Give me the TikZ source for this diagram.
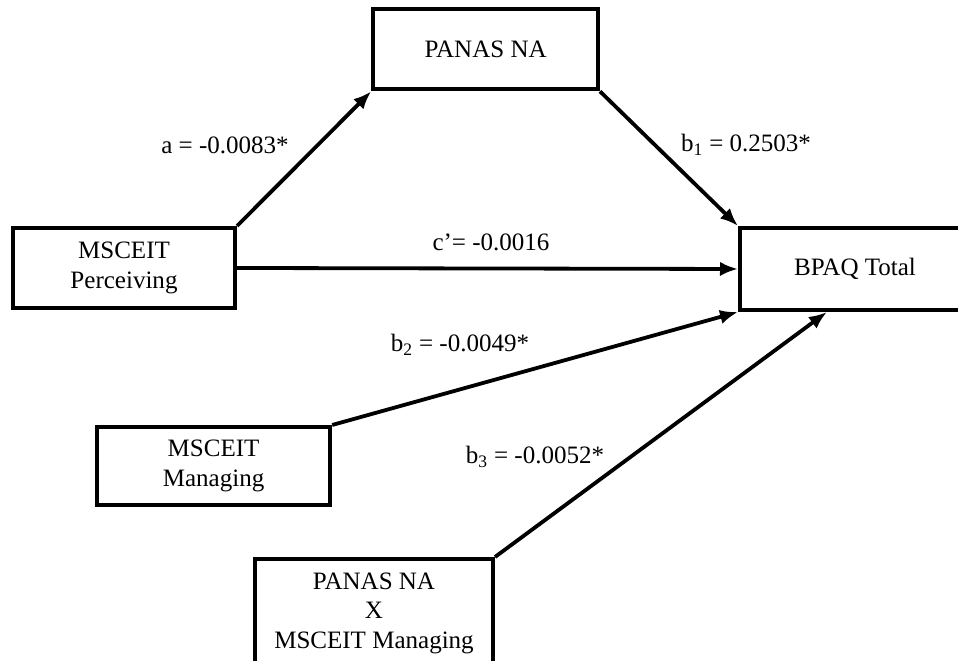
\documentclass[tikz,border=0pt]{standalone}
\usepackage{fontspec}
\setmainfont{Liberation Serif}
\usetikzlibrary{arrows.meta,calc}

\tikzset{
  var/.style={draw,line width=0.1cm,align=center,inner sep=2pt,
    font=\fontsize{17.8}{21}\selectfont},
  path/.style={-{Latex[length=0.45cm,width=0.36cm]},line width=0.095cm},
  coef/.style={font=\fontsize{17.8}{21}\selectfont}
}

\begin{document}
\begin{tikzpicture}
\useasboundingbox (0,0) rectangle (23.95,16.525);
% variables
\node [var,minimum width=5.62cm,minimum height=2cm] (panas) at (12.14,15.29) {PANAS NA};
\node [var,minimum width=5.55cm,minimum height=2cm] (perc) at (3.1,9.825) {MSCEIT\\Perceiving};
\node [var,minimum width=5.75cm,minimum height=2.05cm] (bpaq) at (21.375,9.8) {BPAQ Total};
\node [var,minimum width=5.83cm,minimum height=1.95cm] (manag) at (5.34,4.875) {MSCEIT\\Managing};
\node [var,minimum width=5.95cm,minimum height=2.7cm] (inter) at (9.35,1.2) {PANAS NA\\X\\MSCEIT Managing};
\coordinate (bin) at ($(bpaq.south west)!0.38!(bpaq.south east)$);

% paths
\draw [path] (perc.north east) -- (panas.south west);
\draw [path] (panas.south east) -- (bpaq.north west);
\draw [path] (perc.east) -- (bpaq.west);
\draw [path] (manag.north east) -- (bpaq.south west);
\draw [path] (inter.north east) -- (bin);

% coefficients
\node [coef] (ca) at (5.625,12.9) {a = -0.0083*};
\node [coef] (cb1) at (18.65,12.9) {b\textsubscript{1} = 0.2503*};
\node [coef] (cc) at (12.275,10.475) {c’= -0.0016};
\node [coef] (cb2) at (11.5,7.9) {b\textsubscript{2} = -0.0049*};
\node [coef] (cb3) at (13.375,5.1) {b\textsubscript{3} = -0.0052*};
\end{tikzpicture}
\end{document}
